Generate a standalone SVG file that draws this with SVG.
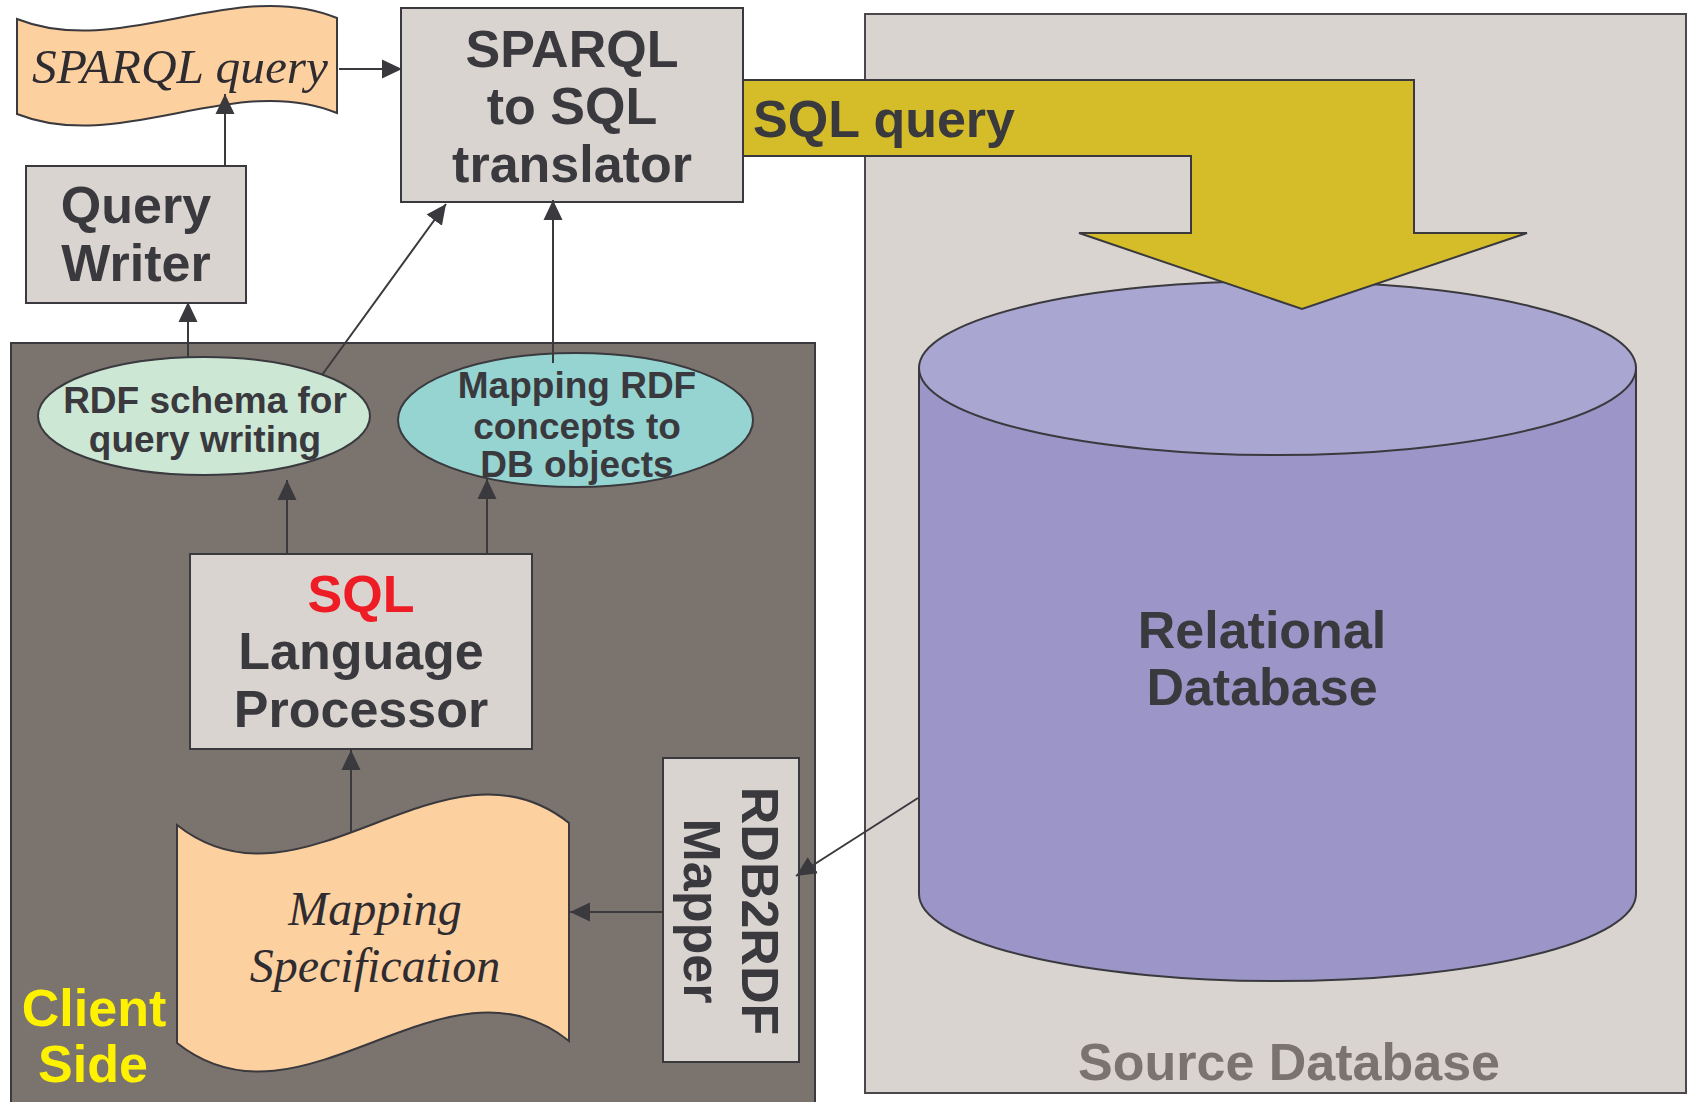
<svg xmlns="http://www.w3.org/2000/svg" width="1691" height="1102" viewBox="0 0 1691 1102">
  <defs>
    <style>
      .box { fill: #dad4d1; stroke: #3a393e; stroke-width: 2; }
      .lbl { font-family: "Liberation Sans", Arial, sans-serif; font-weight: bold; fill: #3a393e; text-anchor: middle; }
      .big { font-size: 52px; }
      .oval { font-size: 37px; }
      .script { font-family: "Liberation Serif", "Times New Roman", serif; font-style: italic; font-size: 48px; fill: #2e2c30; text-anchor: middle; }
      .scroll { fill: #fdd09f; stroke: #3a393e; stroke-width: 2; }
      .wire { fill: none; stroke: #3a393e; stroke-width: 2; }
    </style>
    <marker id="arrow" markerUnits="userSpaceOnUse" markerWidth="20" markerHeight="20" refX="20" refY="10" orient="auto">
      <path d="M0,0.5 L20,10 L0,19.5 Z" fill="#3a393e"/>
    </marker>
  </defs>

  <rect width="1691" height="1102" fill="#ffffff"/>

  <!-- Source database container -->
  <g id="source-database">
    <rect x="865" y="14" width="821" height="1079" fill="#dad4d1" stroke="#4a484c" stroke-width="2"/>
    <text class="lbl big" x="1289" y="1080" fill="#7b736d" style="fill:#7b736d">Source Database</text>
  </g>

  <!-- Relational database cylinder -->
  <g id="relational-database">
    <path d="M919,368 L919,894 A358.5,87 0 0 0 1636,894 L1636,368 Z" fill="#9b95c8" stroke="#3a393e" stroke-width="2"/>
    <ellipse cx="1277.5" cy="368" rx="358.5" ry="87" fill="#aaa6d2" stroke="#3a393e" stroke-width="2"/>
    <text class="lbl big" x="1262" y="648">Relational</text>
    <text class="lbl big" x="1262" y="705">Database</text>
  </g>

  <!-- Client side container -->
  <g id="client-side">
    <rect x="11" y="343" width="804" height="780" fill="#7b736d" stroke="#3a393e" stroke-width="2"/>
    <text class="lbl big" x="94" y="1026" style="fill:#fff200">Client</text>
    <text class="lbl big" x="93" y="1082" style="fill:#fff200">Side</text>
  </g>

  <!-- SQL query block arrow -->
  <g id="sql-query">
    <polygon points="743,80 1414,80 1414,233 1527,233 1302,309 1079,233 1191,233 1191,156 743,156" fill="#d4bd28" stroke="#3a393e" stroke-width="2"/>
    <text class="lbl big" x="753" y="137" style="text-anchor:start">SQL query</text>
  </g>

  <g id="sparql-query">
    <path class="scroll" d="M17,19 C120,60 235,-24 337,18 L337,113 C235,71 120,155 17,114 Z"/>
    <text class="script" x="180" y="83" textLength="296" lengthAdjust="spacingAndGlyphs">SPARQL query</text>
  </g>

  <g id="translator">
    <rect class="box" x="401" y="8" width="342" height="194"/>
    <text class="lbl big" x="572" y="67">SPARQL</text>
    <text class="lbl big" x="572" y="124">to SQL</text>
    <text class="lbl big" x="572" y="182">translator</text>
  </g>

  <g id="query-writer">
    <rect class="box" x="26" y="166" width="220" height="137"/>
    <text class="lbl big" x="136" y="223">Query</text>
    <text class="lbl big" x="136" y="281">Writer</text>
  </g>

  <g id="rdf-schema">
    <ellipse cx="204" cy="416" rx="166" ry="59" fill="#cce8d5" stroke="#3a393e" stroke-width="2"/>
    <text class="lbl oval" x="205" y="413">RDF schema for</text>
    <text class="lbl oval" x="205" y="452">query writing</text>
  </g>

  <g id="mapping-rdf">
    <ellipse cx="575.5" cy="420" rx="177.5" ry="67" fill="#96d4d2" stroke="#3a393e" stroke-width="2"/>
    <text class="lbl oval" x="577" y="398">Mapping RDF</text>
    <text class="lbl oval" x="577" y="439">concepts to</text>
    <text class="lbl oval" x="577" y="477">DB objects</text>
  </g>

  <g id="sql-processor">
    <rect class="box" x="190" y="554" width="342" height="195"/>
    <text class="lbl big" x="361" y="612" style="fill:#ee1c25">SQL</text>
    <text class="lbl big" x="361" y="669">Language</text>
    <text class="lbl big" x="361" y="727">Processor</text>
  </g>

  <g id="mapping-specification">
    <path class="scroll" d="M177,825 C303,925 444,723 569,823 L569,1041 C444,941 303,1143 177,1043 Z"/>
    <text class="script" x="375" y="925">Mapping</text>
    <text class="script" x="375" y="982">Specification</text>
  </g>

  <g id="rdb2rdf-mapper">
    <rect class="box" x="663" y="758" width="136" height="304"/>
    <text class="lbl big" transform="translate(742,911) rotate(90)">RDB2RDF</text>
    <text class="lbl big" transform="translate(684,911) rotate(90)">Mapper</text>
  </g>

  <!-- Connectors -->
  <g id="connectors" class="wire" marker-end="url(#arrow)">
    <line x1="339" y1="69" x2="402" y2="69"/>
    <line x1="225" y1="166" x2="225" y2="94"/>
    <line x1="188" y1="357" x2="188" y2="302"/>
    <line x1="322" y1="375" x2="446" y2="204"/>
    <line x1="553" y1="363" x2="553" y2="200"/>
    <line x1="287" y1="554" x2="287" y2="480"/>
    <line x1="487" y1="554" x2="487" y2="479"/>
    <line x1="351" y1="832" x2="351" y2="750"/>
    <line x1="663" y1="912" x2="570" y2="912"/>
    <line x1="918" y1="798" x2="796" y2="876"/>
  </g>
</svg>
